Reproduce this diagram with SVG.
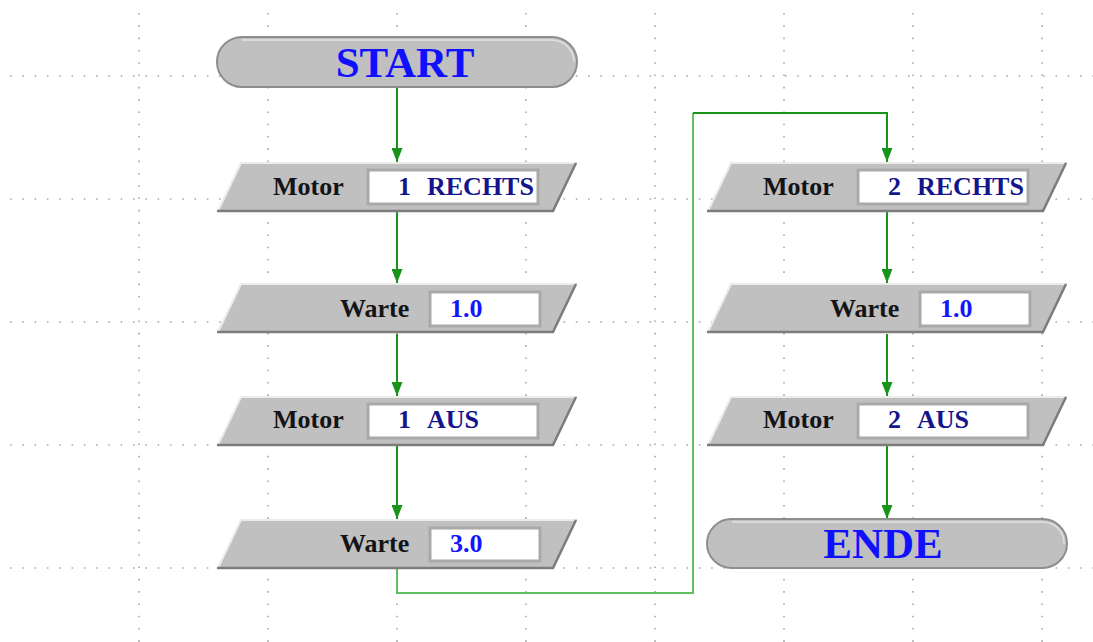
<svg xmlns="http://www.w3.org/2000/svg" xmlns:xlink="http://www.w3.org/1999/xlink" width="1093" height="642" viewBox="0 0 1093 642">
<style>
.grid line{stroke:#a8a8a8;stroke-width:1.6;stroke-dasharray:1.6 10.7}
.para{fill:#c0c0c0}
.hl{fill:none;stroke:#ececec;stroke-width:2}
.sh{fill:none;stroke:#7c7c7c;stroke-width:2.5}
.box{fill:#ffffff;stroke:#a9a9a9;stroke-width:3}
.pill{fill:#c0c0c0;stroke:#8e8e8e;stroke-width:2}
.pillhl{fill:none;stroke:#e2e2e2;stroke-width:1.5}
.lbl{font-family:"Liberation Serif","Times New Roman",serif;font-weight:bold;font-size:26px;fill:#141414}
.val{font-family:"Liberation Serif","Times New Roman",serif;font-weight:bold;font-size:26px;fill:#14148c}
.num{font-family:"Liberation Serif","Times New Roman",serif;font-weight:bold;font-size:26px;fill:#1414ff}
.term{font-family:"Liberation Serif","Times New Roman",serif;font-weight:bold;font-size:43px;fill:#1010ff;text-anchor:middle}
.conn{fill:none;stroke:#18941a;stroke-width:2}
.loop{fill:none;stroke:#5fc05f;stroke-width:2}
</style>
<defs>
<marker id="arrd" markerUnits="userSpaceOnUse" markerWidth="14" markerHeight="11" refX="14" refY="5.5" orient="auto" viewBox="0 0 14 11">
<path d="M0,0 L14,5.5 L0,11 Z" fill="#18941a"/>
</marker>
<g id="paraShape">
<polygon class="para" points="24,0 360,0 336,50 0,50"/>
<polyline class="hl" points="1,49 24,1 359,1"/>
<polyline class="sh" points="359,1 336,49 0,49"/>
</g>
</defs>
<rect width="1093" height="642" fill="#ffffff"/>
<g class="grid">
<line x1="139" y1="13" x2="139" y2="642"/>
<line x1="268" y1="13" x2="268" y2="642"/>
<line x1="397" y1="13" x2="397" y2="642"/>
<line x1="526" y1="13" x2="526" y2="642"/>
<line x1="655" y1="13" x2="655" y2="642"/>
<line x1="784" y1="13" x2="784" y2="642"/>
<line x1="913" y1="13" x2="913" y2="642"/>
<line x1="1042" y1="13" x2="1042" y2="642"/>
<line x1="10" y1="76" x2="1093" y2="76"/>
<line x1="10" y1="199" x2="1093" y2="199"/>
<line x1="10" y1="322" x2="1093" y2="322"/>
<line x1="10" y1="445" x2="1093" y2="445"/>
<line x1="10" y1="568" x2="1093" y2="568"/>
</g>
<g id="connectors">
<path class="loop" d="M397,569 V593 H693 V113"/>
<path class="conn" d="M693,113 H887 V162" marker-end="url(#arrd)"/>
<path class="conn" d="M397,88 V162" marker-end="url(#arrd)"/>
<path class="conn" d="M397,212 V283" marker-end="url(#arrd)"/>
<path class="conn" d="M397,334 V396" marker-end="url(#arrd)"/>
<path class="conn" d="M397,446 V519" marker-end="url(#arrd)"/>
<path class="conn" d="M887,212 V283" marker-end="url(#arrd)"/>
<path class="conn" d="M887,334 V396" marker-end="url(#arrd)"/>
<path class="conn" d="M887,446 V519" marker-end="url(#arrd)"/>
</g>
<g id="start">
<rect class="pill" x="217" y="37" width="360" height="50" rx="25"/>
<path class="pillhl" d="M242,40 H552 A22,22 0 0 1 574,62"/>
<text class="term" x="405" y="77">START</text>
</g>
<g id="motor1rechts" transform="translate(217,162)">
<use xlink:href="#paraShape"/>
<rect class="box" x="151" y="8" width="170" height="34"/>
<text class="lbl" x="56" y="33">Motor</text>
<text class="val" y="33"><tspan x="181">1 </tspan><tspan x="210">RECHTS</tspan></text>
</g>
<g id="warte1" transform="translate(217,283)">
<use xlink:href="#paraShape"/>
<rect class="box" x="213" y="9" width="110" height="34"/>
<text class="lbl" x="123" y="34">Warte</text>
<text class="num" x="233" y="34">1.0</text>
</g>
<g id="motor1aus" transform="translate(217,396)">
<use xlink:href="#paraShape"/>
<rect class="box" x="151" y="8" width="170" height="34"/>
<text class="lbl" x="56" y="32">Motor</text>
<text class="val" y="32"><tspan x="181">1 </tspan><tspan x="210">AUS</tspan></text>
</g>
<g id="warte3" transform="translate(217,519)">
<use xlink:href="#paraShape"/>
<rect class="box" x="213" y="9" width="110" height="33"/>
<text class="lbl" x="123" y="33">Warte</text>
<text class="num" x="233" y="33">3.0</text>
</g>
<g id="motor2rechts" transform="translate(707,162)">
<use xlink:href="#paraShape"/>
<rect class="box" x="151" y="8" width="170" height="34"/>
<text class="lbl" x="56" y="33">Motor</text>
<text class="val" y="33"><tspan x="181">2 </tspan><tspan x="210">RECHTS</tspan></text>
</g>
<g id="warte2" transform="translate(707,283)">
<use xlink:href="#paraShape"/>
<rect class="box" x="213" y="9" width="110" height="34"/>
<text class="lbl" x="123" y="34">Warte</text>
<text class="num" x="233" y="34">1.0</text>
</g>
<g id="motor2aus" transform="translate(707,396)">
<use xlink:href="#paraShape"/>
<rect class="box" x="151" y="8" width="170" height="34"/>
<text class="lbl" x="56" y="32">Motor</text>
<text class="val" y="32"><tspan x="181">2 </tspan><tspan x="210">AUS</tspan></text>
</g>
<g id="ende">
<rect class="pill" x="707" y="519" width="360" height="49" rx="24.5"/>
<path class="pillhl" d="M732,522 H1042 A21,21 0 0 1 1064,544"/>
<text class="term" x="883" y="558">ENDE</text>
</g>
</svg>
